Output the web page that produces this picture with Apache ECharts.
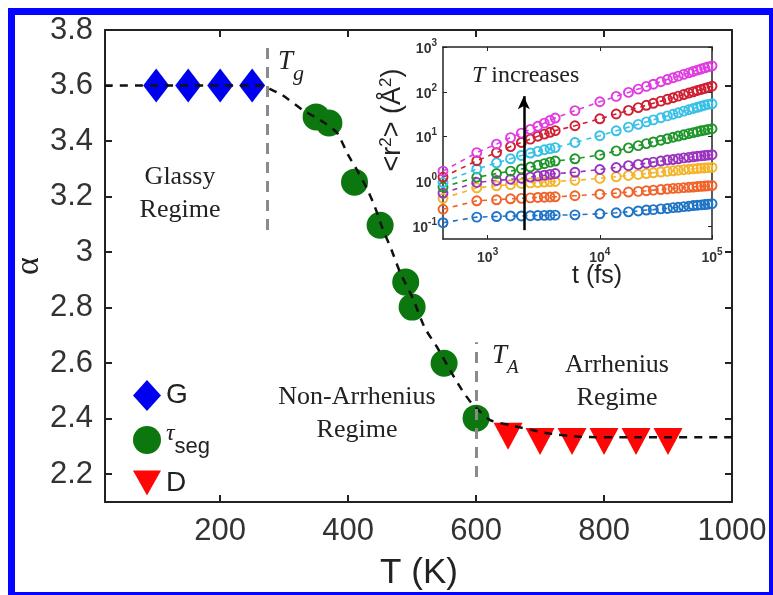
<!DOCTYPE html>
<html>
<head>
<meta charset="utf-8">
<script src="https://cdn.jsdelivr.net/npm/echarts@6/dist/echarts.min.js"></script>
<style>html,body{margin:0;padding:0;background:#fff;}#c{width:773px;height:595px;}</style>
</head>
<body>
<div id="c"></div>
<script>
// ---- main chart data ----
const gT = [100, 150, 200, 250];
const gAlpha = [3.6, 3.6, 3.6, 3.6];
const segT = [350, 370, 410, 450, 490, 500, 550, 600];
const segAlpha = [3.487, 3.465, 3.252, 3.097, 2.892, 2.802, 2.600, 2.402];
const dT = [650, 700, 750, 800, 850, 900];
const dAlpha = [2.337, 2.318, 2.318, 2.318, 2.318, 2.318];
const fitT = [20, 265, 280, 297, 329, 356, 382, 400, 414, 429, 442, 453, 468, 481, 501, 520, 539, 562, 578, 593, 622, 653, 711, 762, 850, 1000];
const fitAlpha = [3.6, 3.6, 3.585, 3.566, 3.512, 3.476, 3.432, 3.35, 3.295, 3.231, 3.162, 3.09, 3.007, 2.928, 2.834, 2.726, 2.658, 2.564, 2.503, 2.456, 2.395, 2.377, 2.348, 2.335, 2.333, 2.333];
const tgLine = [273, 3.08, 3.735];
const taLine = [600, 2.19, 2.675];
const xTicks = [200, 400, 600, 800, 1000];
const yTicks = [2.2, 2.4, 2.6, 2.8, 3.0, 3.2, 3.4, 3.6, 3.8];

// ---- inset data ----
const tInset = [400, 800, 1200, 1600, 2000, 2400, 2800, 3200, 3600, 4000, 6000, 10000, 14000, 18000, 22000, 26000, 30000, 35000, 40000, 45000, 50000, 56000, 62000, 68000, 74000, 80000, 86000, 92000, 100000];
const r2Magenta = [1.7, 4.4, 6.8, 9.5, 12, 14.5, 17, 20, 23, 26, 38, 60, 79, 97, 115, 132, 148, 168, 188, 206, 224, 245, 265, 285, 305, 323, 342, 360, 380];
const r2Red = [1.25, 2.9, 4.4, 6, 7.4, 8.8, 10.2, 11.4, 12.5, 13.6, 17.5, 25, 32, 38.5, 44.5, 50, 55.5, 62, 68, 74, 80, 87, 94, 100, 107, 113, 119, 125, 134];
const r2Cyan = [0.95, 1.9, 2.6, 3.2, 3.8, 4.3, 4.7, 5.1, 5.4, 5.7, 7.4, 10.5, 13.5, 16.3, 18.8, 21.3, 23.6, 26.4, 29, 31.6, 34, 37, 39.8, 42.5, 45.2, 47.8, 50.3, 52.5, 54];
const r2Green = [0.75, 1.24, 1.5, 1.7, 1.9, 2.1, 2.3, 2.5, 2.7, 2.85, 3.2, 3.9, 4.8, 5.6, 6.3, 7.0, 7.6, 8.3, 9.0, 9.7, 10.3, 11, 11.7, 12.3, 12.9, 13.5, 14, 14.5, 15];
const r2Purple = [0.55, 0.95, 1.05, 1.12, 1.18, 1.25, 1.32, 1.38, 1.44, 1.5, 1.6, 1.85, 2.05, 2.25, 2.4, 2.55, 2.7, 2.85, 3.0, 3.1, 3.2, 3.35, 3.45, 3.55, 3.65, 3.72, 3.8, 3.87, 3.95];
const r2Yellow = [0.42, 0.72, 0.8, 0.85, 0.9, 0.93, 0.95, 0.97, 0.99, 1.0, 1.06, 1.17, 1.27, 1.36, 1.43, 1.5, 1.56, 1.62, 1.68, 1.73, 1.78, 1.83, 1.87, 1.91, 1.95, 1.98, 2.0, 2.03, 2.06];
const r2Orange = [0.24, 0.37, 0.39, 0.41, 0.42, 0.43, 0.44, 0.445, 0.45, 0.455, 0.48, 0.52, 0.55, 0.58, 0.6, 0.62, 0.64, 0.66, 0.68, 0.7, 0.71, 0.73, 0.74, 0.75, 0.77, 0.78, 0.79, 0.8, 0.81];
const r2Blue = [0.12, 0.16, 0.165, 0.17, 0.17, 0.172, 0.174, 0.175, 0.176, 0.177, 0.18, 0.19, 0.2, 0.21, 0.22, 0.23, 0.235, 0.245, 0.25, 0.26, 0.265, 0.275, 0.28, 0.29, 0.295, 0.3, 0.305, 0.31, 0.32];
const insetXTicks = [1000, 10000, 100000];
const insetYTicks = [0.1, 1, 10, 100, 1000];
const arrowLine = [2100, 0.082, 80];

const insetSeries = [
  ['blue', r2Blue, '#1f74c6'],
  ['orange', r2Orange, '#f0642a'],
  ['yellow', r2Yellow, '#f3b52c'],
  ['purple', r2Purple, '#9a33bf'],
  ['green', r2Green, '#1f962a'],
  ['cyan', r2Cyan, '#38c0e6'],
  ['red', r2Red, '#cf1f33'],
  ['magenta', r2Magenta, '#e03ce0']
];

const zip = (a, b) => a.map((v, i) => [v, b[i]]);
const SANS = 'Liberation Sans, Arial, sans-serif';
const SERIF = 'Liberation Serif, Times New Roman, serif';

function mainAxisX(pos, showLabel) {
  return {
    gridIndex: 0, type: 'value', min: 20, max: 1000, position: pos,
    axisLine: {show: true, onZero: false, lineStyle: {color: '#222', width: 2}},
    axisTick: {show: true, inside: true, length: 7, customValues: xTicks, lineStyle: {color: '#222', width: 2}},
    axisLabel: {show: showLabel, customValues: xTicks, formatter: v => String(v), fontSize: 31, color: '#333', fontFamily: SANS, margin: 14},
    splitLine: {show: false}
  };
}
function mainAxisY(pos, showLabel) {
  return {
    gridIndex: 0, type: 'value', min: 2.1, max: 3.8, position: pos,
    axisLine: {show: true, onZero: false, lineStyle: {color: '#222', width: 2}},
    axisTick: {show: true, inside: true, length: 7, customValues: yTicks, lineStyle: {color: '#222', width: 2}},
    axisLabel: {show: showLabel, customValues: yTicks, formatter: v => String(v), fontSize: 31, color: '#333', fontFamily: SANS, margin: 12},
    splitLine: {show: false}
  };
}
const supRich = {
  b: {fontSize: 14, fontWeight: 'bold', fontFamily: SANS, color: '#333', verticalAlign: 'bottom'},
  s: {fontSize: 10, fontWeight: 'bold', fontFamily: SANS, color: '#333', verticalAlign: 'bottom', padding: [0, 0, 8, 0]}
};
const supFmt = v => '{b|10}{s|' + Math.round(Math.log10(v)) + '}';
function insetAxisX(pos, showLabel) {
  return {
    gridIndex: 1, type: 'log', logBase: 10, min: 400, max: 100000, position: pos,
    axisLine: {show: true, onZero: false, lineStyle: {color: '#222', width: 1.5}},
    axisTick: {show: true, inside: true, length: 4, customValues: insetXTicks, lineStyle: {color: '#222', width: 1}},
    axisLabel: {show: showLabel, customValues: insetXTicks, formatter: supFmt, rich: supRich, margin: 8},
    splitLine: {show: false}, minorTick: {show: false}
  };
}
function insetAxisY(pos, showLabel) {
  return {
    gridIndex: 1, type: 'log', logBase: 10, min: 0.052, max: 1000, position: pos,
    axisLine: {show: true, onZero: false, lineStyle: {color: '#222', width: 1.5}},
    axisTick: {show: true, inside: true, length: 4, customValues: insetYTicks, lineStyle: {color: '#222', width: 1}},
    axisLabel: {show: showLabel, customValues: insetYTicks, formatter: supFmt, rich: supRich, margin: 6},
    splitLine: {show: false}, minorTick: {show: false}
  };
}

const series = [
  {name: 'G', type: 'scatter', xAxisIndex: 0, yAxisIndex: 0, data: zip(gT, gAlpha),
   symbol: 'diamond', symbolSize: [26, 34], itemStyle: {color: '#0000f0', opacity: 1}, z: 2},
  {name: 'tau', type: 'scatter', xAxisIndex: 0, yAxisIndex: 0, data: zip(segT, segAlpha),
   symbol: 'circle', symbolSize: 27, itemStyle: {color: '#0c770f', opacity: 1}, z: 2},
  {name: 'D', type: 'scatter', xAxisIndex: 0, yAxisIndex: 0, data: zip(dT, dAlpha),
   symbol: 'triangle', symbolRotate: 180, symbolSize: [29, 27], itemStyle: {color: '#ff0505', opacity: 1}, z: 2},
  {name: 'fit', type: 'line', xAxisIndex: 0, yAxisIndex: 0, data: zip(fitT, fitAlpha),
   showSymbol: false, smooth: 0.2, lineStyle: {color: '#111', width: 2.5, type: [8, 7]}, z: 4,
   markLine: {silent: true, symbol: 'none', label: {show: false}, animation: false,
     lineStyle: {color: '#8a8a8a', width: 3, type: [11, 8]},
     data: [
       [{coord: [tgLine[0], tgLine[1]]}, {coord: [tgLine[0], tgLine[2]]}],
       [{coord: [taLine[0], taLine[1]]}, {coord: [taLine[0], taLine[2]]}]
     ]}}
];
insetSeries.forEach((s, i) => {
  const item = {
    name: s[0], type: 'line', xAxisIndex: 2, yAxisIndex: 2, data: zip(tInset, s[1]),
    symbol: 'circle', symbolSize: 9, showSymbol: true,
    lineStyle: {color: s[2], width: 1.6, type: [5, 5]},
    itemStyle: {color: 'rgba(255,255,255,0)', borderColor: s[2], borderWidth: 1.9},
    z: 3
  };
  if (i === 0) {
    item.markLine = {silent: true, symbol: ['none', 'arrow'], symbolSize: [9, 13], label: {show: false}, animation: false,
      lineStyle: {color: '#000', width: 2.5, type: 'solid'},
      data: [[{coord: [arrowLine[0], arrowLine[1]]}, {coord: [arrowLine[0], arrowLine[2]]}]]};
  }
  series.push(item);
});

const option = {
  animation: false,
  backgroundColor: '#fff',
  grid: [
    {left: 105, top: 30, width: 627, height: 472},
    {left: 443, top: 47, width: 269, height: 192}
  ],
  xAxis: [mainAxisX('bottom', true), mainAxisX('top', false), insetAxisX('bottom', true), insetAxisX('top', false)],
  yAxis: [mainAxisY('left', true), mainAxisY('right', false), insetAxisY('left', true), insetAxisY('right', false)],
  legend: {
    show: true, orient: 'vertical', left: 128, top: 375, itemWidth: 28, itemGap: 11, itemHeight: 31,
    selectedMode: false,
    data: [
      {name: 'G', icon: 'diamond'},
      {name: 'tau', icon: 'circle'},
      {name: 'D', icon: 'path://M0,0L10,0L5,9Z'}
    ],
    formatter: n => n === 'tau' ? '{t|τ}{s|seg}' : '{a|' + n + '}',
    textStyle: {
      rich: {
        a: {fontSize: 28, fontFamily: SANS, color: '#222'},
        t: {fontSize: 24, fontFamily: SERIF, fontStyle: 'italic', color: '#222', verticalAlign: 'bottom', padding: [0, 0, 12, 0]},
        s: {fontSize: 22, fontFamily: SANS, color: '#222', verticalAlign: 'bottom'}
      }
    }
  },
  graphic: [
    {type: 'text', x: 180, y: 194, style: {text: 'Glassy\nRegime', fontSize: 26, fontFamily: SERIF, fill: '#222', align: 'center', verticalAlign: 'middle', lineHeight: 33}},
    {type: 'text', x: 357, y: 414, style: {text: 'Non-Arrhenius\nRegime', fontSize: 26, fontFamily: SERIF, fill: '#222', align: 'center', verticalAlign: 'middle', lineHeight: 33}},
    {type: 'text', x: 617, y: 382, style: {text: 'Arrhenius\nRegime', fontSize: 26, fontFamily: SERIF, fill: '#222', align: 'center', verticalAlign: 'middle', lineHeight: 33}},
    {type: 'text', x: 278, y: 48, style: {text: '{t|T}{g|g}', rich: {
      t: {fontSize: 27, fontFamily: SERIF, fontStyle: 'italic', fill: '#222', verticalAlign: 'bottom', padding: [0, 0, 10, 0]},
      g: {fontSize: 22, fontFamily: SERIF, fontStyle: 'italic', fill: '#222', verticalAlign: 'bottom'}}}},
    {type: 'text', x: 492, y: 342, style: {text: '{t|T}{g|A}', rich: {
      t: {fontSize: 27, fontFamily: SERIF, fontStyle: 'italic', fill: '#222', verticalAlign: 'bottom', padding: [0, 0, 8, 0]},
      g: {fontSize: 19, fontFamily: SERIF, fontStyle: 'italic', fill: '#222', verticalAlign: 'bottom'}}}},
    {type: 'text', x: 472, y: 76, style: {text: '{t|T}{a| increases}', verticalAlign: 'middle', rich: {
      t: {fontSize: 24, fontFamily: SERIF, fontStyle: 'italic', fill: '#222'},
      a: {fontSize: 24, fontFamily: SERIF, fill: '#222'}}}},
    {type: 'text', x: 29, y: 266, rotation: Math.PI / 2, style: {text: 'α', fontSize: 34, fontFamily: SERIF, fill: '#222', align: 'center', verticalAlign: 'middle'}},
    {type: 'text', x: 419, y: 573, style: {text: 'T (K)', fontSize: 35, fontFamily: SANS, fill: '#222', align: 'center', verticalAlign: 'middle'}},
    {type: 'text', x: 597, y: 276, style: {text: 't (fs)', fontSize: 25, fontFamily: SANS, fill: '#222', align: 'center', verticalAlign: 'middle'}},
    {type: 'text', x: 392, y: 120, rotation: Math.PI / 2, style: {text: '{a|<r}{s|2}{a|> (Å}{s|2}{a|)}', align: 'center', verticalAlign: 'middle', rich: {
      a: {fontSize: 27, fontFamily: SANS, fill: '#222', verticalAlign: 'bottom'},
      s: {fontSize: 17, fontFamily: SANS, fill: '#222', verticalAlign: 'bottom', padding: [0, 0, 12, 0]}}}},
    {type: 'rect', z: 100, shape: {x: 11.5, y: 11.5, width: 761, height: 584}, style: {fill: 'none', stroke: '#0505ff', lineWidth: 7}}
  ],
  series: series
};
const chart = echarts.init(document.getElementById('c'), null, {renderer: 'canvas'});
chart.setOption(option);
</script>
</body>
</html>
